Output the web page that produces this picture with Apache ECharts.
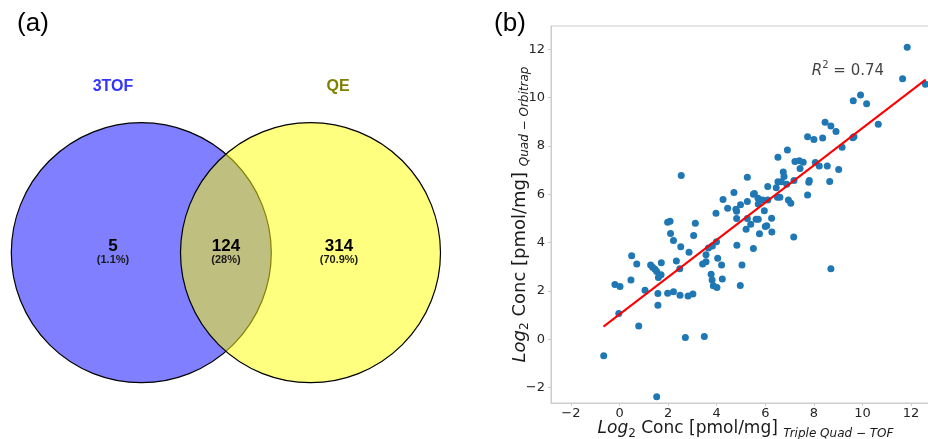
<!DOCTYPE html>
<html><head><meta charset="utf-8">
<script src="https://cdn.jsdelivr.net/npm/echarts@6/dist/echarts.min.js"></script>
<style>html,body{margin:0;padding:0;background:#fff}#c{width:928px;height:439px}</style>
</head><body><div id="c"></div>
<script>
// ---- Panel (a): Venn ----
const vennSets = ['3TOF', 'QE'];
const vennSetColors = ['#3434ff', '#808000'];
const vennCounts = [5, 124, 314];          // only 3TOF, both, only QE
const vennPercents = ['1.1%', '28%', '70.9%'];

// ---- Panel (b): scatter ----
const xTriple = [11.84,11.65,12.59,9.92,9.62,10.17,10.65,8.46,8.70,8.91,7.74,8.00,8.36,9.60,9.65,9.16,6.91,6.52,7.22,7.40,7.56,7.43,8.06,8.22,8.55,9.02,8.65,6.74,6.77,6.52,6.66,6.88,7.18,7.81,7.79,5.26,2.54,6.10,6.45,7.74,4.71,5.51,5.55,5.70,5.89,6.10,6.50,6.60,6.95,7.05,4.26,4.45,4.79,4.82,4.98,5.26,5.71,
  5.96,3.97,1.98,2.08,3.12,4.82,5.26,5.62,5.71,6.26,5.40,5.21,6.00,6.06,6.27,5.76,5.51,7.17,2.10,2.22,3.05,2.52,2.86,4.83,3.99,3.82,3.66,3.56,3.56,3.42,4.04,4.20,5.04,3.77,3.81,4.23,3.86,4.01,4.97,0.50,0.71,1.28,1.36,1.46,1.53,1.72,1.71,1.60,2.34,2.48,0.47,-0.19,0.02,1.05,1.98,1.58,2.22,2.49,2.82,3.02,-0.03,1.58,0.79,2.71,3.49,-0.65,1.53,8.70];
const yQuad = [12.08,10.78,10.55,10.11,9.87,9.74,8.89,8.98,8.82,8.59,8.38,8.26,8.33,8.34,8.38,7.94,7.83,7.53,7.35,7.38,7.32,7.06,7.31,7.17,7.17,7.02,6.53,6.92,6.73,6.52,6.52,6.41,6.57,6.57,6.49,6.70,6.77,6.32,6.27,5.97,6.07,6.00,6.03,5.83,5.76,5.76,5.87,5.87,5.76,5.63,5.78,5.42,5.38,5.29,5.56,5.70,5.59,
  5.32,5.21,4.84,4.88,4.80,4.99,4.99,4.96,4.96,5.01,4.76,4.55,4.66,4.69,4.44,4.36,3.75,4.23,4.37,4.08,4.29,3.83,3.60,3.89,4.03,3.86,3.77,3.49,3.21,3.11,3.35,3.07,3.07,2.69,2.45,2.49,2.21,2.14,2.22,3.45,3.11,3.07,2.98,2.89,2.80,3.16,2.67,2.55,3.24,2.92,2.45,2.26,2.18,2.03,1.90,1.89,1.96,1.82,1.79,1.87,1.06,1.40,0.55,0.07,0.11,-0.68,-2.38,2.92];
const fitX = [-0.66, 12.6];
const fitY = [0.52, 10.74];
const r2Text = '0.74';
const r2Pos = [9.4, 11.15];

const chart = echarts.init(document.getElementById('c'), null, {renderer: 'canvas'});
const tickFmt = v => String(v).replace('-', '\u2212');
const AX = '#cccccc', LBL = '#262626', FF = 'DejaVu Sans';

const vennTexts = [];
const regionX = [113, 226, 339];
vennCounts.forEach((c, i) => {
  vennTexts.push({type: 'text', x: regionX[i], y: 246,
    style: {text: String(c), align: 'center', verticalAlign: 'middle',
      font: 'bold 17px "Liberation Sans", Arial', fill: '#000'}});
  vennTexts.push({type: 'text', x: regionX[i], y: 260,
    style: {text: '(' + vennPercents[i] + ')', align: 'center', verticalAlign: 'middle',
      font: 'bold 11px "Liberation Sans", Arial', fill: '#1a1a1a'}});
});
const setLabelX = [113, 338];

const richName = (main, sub) => ({
  i: {fontFamily: FF, fontStyle: 'italic', fontSize: main, color: '#1a1a1a', lineHeight: 22, verticalAlign: 'middle'},
  n: {fontFamily: FF, fontSize: main, color: '#1a1a1a', lineHeight: 22, verticalAlign: 'middle'},
  s: {fontFamily: FF, fontSize: sub, color: '#1a1a1a', lineHeight: 12, verticalAlign: 'bottom'},
  si: {fontFamily: FF, fontStyle: 'italic', fontSize: sub, color: '#1a1a1a', lineHeight: 12, verticalAlign: 'bottom'}
});

chart.setOption({
  animation: false,
  backgroundColor: '#fff',
  grid: {left: 551, top: 26, height: 377, width: 389, outerBoundsMode: 'none', containLabel: false,
    show: true, borderColor: AX, borderWidth: 1},
  xAxis: {
    type: 'value', min: -2.82, max: 13.19, splitNumber: 8,
    splitLine: {show: false},
    axisLine: {onZero: false, lineStyle: {color: AX}},
    axisTick: {show: true, length: 3, lineStyle: {color: AX}},
    axisLabel: {color: LBL, fontFamily: FF, fontSize: 13, margin: 4, showMinLabel: false, showMaxLabel: false, formatter: tickFmt},
    name: '{i|Log}{s|2}{n| Conc [pmol/mg] }{si|Triple Quad \u2212 TOF}',
    nameLocation: 'middle', nameGap: 15, nameMoveOverlap: false,
    nameTextStyle: {rich: richName(17, 12)}
  },
  yAxis: {
    type: 'value', min: -2.64, max: 12.96, splitNumber: 8,
    splitLine: {show: false},
    axisLine: {show: true, onZero: false, lineStyle: {color: AX}},
    axisTick: {show: true, length: 3, lineStyle: {color: AX}},
    axisLabel: {color: LBL, fontFamily: FF, fontSize: 13, margin: 6, showMinLabel: false, showMaxLabel: false, formatter: tickFmt},
    name: '{i|Log}{s|2}{n| Conc [pmol/mg] }{si|Quad \u2212 Orbitrap}',
    nameLocation: 'middle', nameGap: 20, nameRotate: 90, nameMoveOverlap: false,
    nameTextStyle: {rich: richName(18, 12)}
  },
  series: [
    {type: 'scatter', symbolSize: 7, itemStyle: {color: '#1f77b4', opacity: 1},
      data: xTriple.map((x, i) => [x, yQuad[i]]), z: 2},
    {type: 'line', symbol: 'none', lineStyle: {color: '#ff0000', width: 2},
      data: fitX.map((x, i) => [x, fitY[i]]), z: 3},
    {type: 'scatter', symbolSize: 0, data: [r2Pos], silent: true,
      label: {show: true, position: 'inside', formatter: '{r|R}{p|2}{t| = ' + r2Text + '}',
        rich: {
          r: {fontFamily: FF, fontStyle: 'italic', fontSize: 15, color: '#111', verticalAlign: 'bottom', lineHeight: 18},
          p: {fontFamily: FF, fontSize: 10, color: '#111', verticalAlign: 'top', lineHeight: 18},
          t: {fontFamily: FF, fontSize: 15, color: '#111', verticalAlign: 'bottom', lineHeight: 18}
        }}}
  ],
  graphic: [
    {type: 'text', x: 33, y: 24, style: {text: '(a)', align: 'center', verticalAlign: 'middle', font: '26px "Liberation Sans", Arial', fill: '#000'}},
    {type: 'text', x: 510, y: 24, style: {text: '(b)', align: 'center', verticalAlign: 'middle', font: '26px "Liberation Sans", Arial', fill: '#000'}},
    {type: 'circle', shape: {cx: 141.3, cy: 252.7, r: 130}, style: {fill: 'rgba(0,0,255,0.5)', stroke: '#000', lineWidth: 1.2}},
    {type: 'circle', shape: {cx: 310.5, cy: 252.7, r: 130}, style: {fill: 'rgba(255,255,0,0.5)', stroke: '#000', lineWidth: 1.2}},
    ...vennSets.map((s, i) => ({type: 'text', x: setLabelX[i], y: 87,
      style: {text: s, align: 'center', verticalAlign: 'middle', font: 'bold 16px "Liberation Sans", Arial', fill: vennSetColors[i]}})),
    ...vennTexts
  ]
});
</script></body></html>
